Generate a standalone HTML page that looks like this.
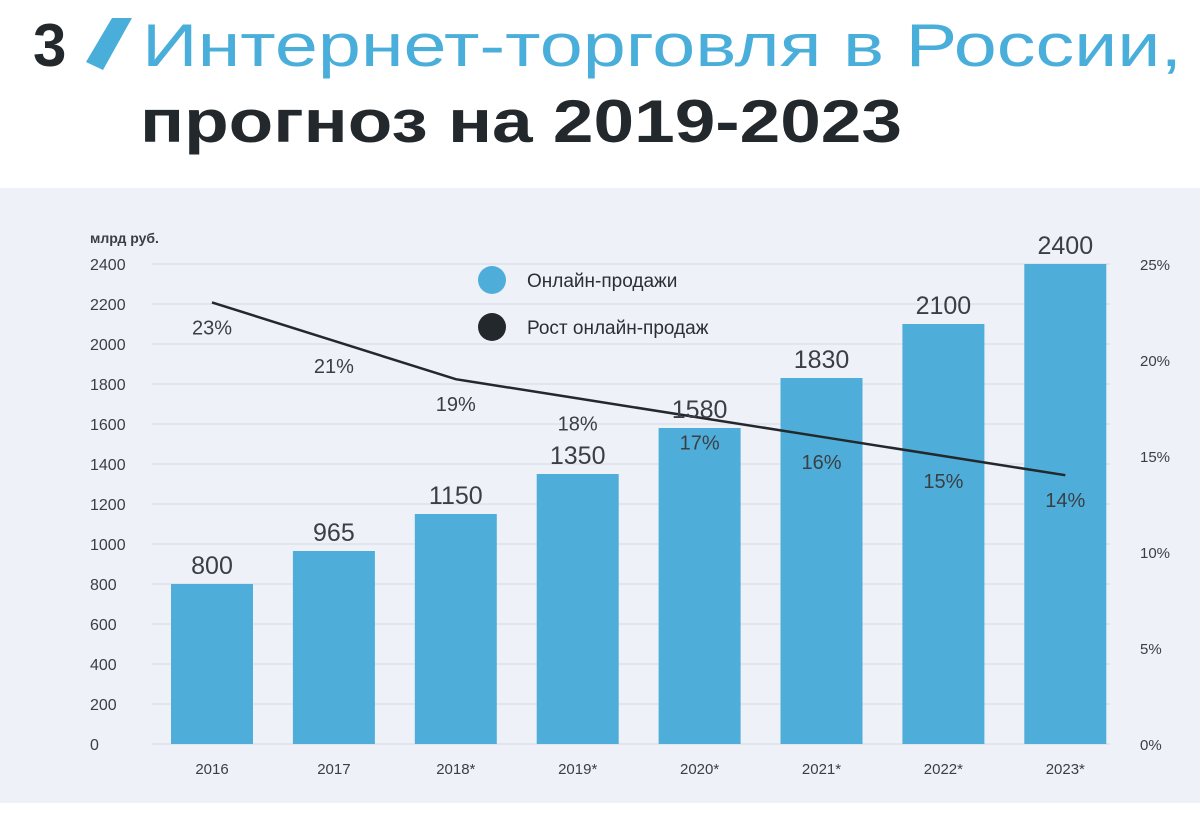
<!DOCTYPE html>
<html><head><meta charset="utf-8"><style>
html,body{margin:0;padding:0;background:#fff;}
svg{display:block;font-family:"Liberation Sans",sans-serif;}
</style></head><body>
<svg id="c" width="1200" height="828" viewBox="0 0 1200 828">
<text x="33" y="66" font-size="60" font-weight="bold" fill="#23282c">3</text>
<polygon points="112,18 132,18 103,70 86,62" fill="#4aaedb"/>
<text x="142" y="66" font-size="60" fill="#4aaedb" textLength="1040" lengthAdjust="spacingAndGlyphs">Интернет-торговля в России,</text>
<text x="140" y="142" font-size="60" font-weight="bold" fill="#23282c" textLength="762" lengthAdjust="spacingAndGlyphs">прогноз на 2019-2023</text>
<rect x="0" y="188" width="1200" height="615" fill="#eef1f8"/>
<text x="90" y="243" font-size="14" font-weight="bold" fill="#3a3f44">млрд руб.</text>
<g id="grid"></g><g id="bars"></g><g id="line"></g><g id="labels"></g>
<circle cx="492" cy="280" r="14" fill="#4faed9"/>
<text x="527" y="287" font-size="19" fill="#2b2f33">Онлайн-продажи</text>
<circle cx="492" cy="327" r="14" fill="#23282c"/>
<text x="527" y="334" font-size="19" fill="#2b2f33">Рост онлайн-продаж</text>
</svg>
<script>
const categories=["2016","2017","2018*","2019*","2020*","2021*","2022*","2023*"];
const sales=[800,965,1150,1350,1580,1830,2100,2400];
const growth=[23,21,19,18,17,16,15,14];
const leftTicks=[0,200,400,600,800,1000,1200,1400,1600,1800,2000,2200,2400];
const rightTicks=[0,5,10,15,20,25];
const NS="http://www.w3.org/2000/svg";
const y0=744,y1=264;
const yL=v=>y0-(v/2400)*(y0-y1);
const yR=v=>y0-(v/25)*(y0-y1);
const xC=i=>212+i*121.9;
function mk(tag,attrs,parent,txt){const e=document.createElementNS(NS,tag);for(const k in attrs)e.setAttribute(k,attrs[k]);if(txt!==undefined)e.textContent=txt;document.getElementById(parent).appendChild(e);return e;}
leftTicks.forEach(t=>{
 const l=mk("line",{x1:152,x2:1110,y1:yL(t),y2:yL(t),stroke:"#dde1ea","stroke-width":1.5},"grid");
 
 
 const tx=mk("text",{x:90,y:yL(t)+6,"font-size":16,fill:"#3a3f44"},"grid",t);
 
 
});
rightTicks.forEach(t=>{
 const tx=mk("text",{x:1140,y:yR(t)+6,"font-size":15,fill:"#3a3f44"},"grid",t+"%");
 
 
});
categories.forEach((c,i)=>{
 const b=mk("rect",{x:xC(i)-41,y:yL(sales[i]),width:82,height:y0-yL(sales[i]),fill:"#4faed9"},"bars");
 
 
 const v=mk("text",{x:xC(i),y:yL(sales[i])-10,"font-size":25,fill:"#3a3f44","text-anchor":"middle"},"labels",sales[i]);
 
 
 const g=mk("text",{x:xC(i),y:yR(growth[i])+32,"font-size":20,fill:"#3a3f44","text-anchor":"middle"},"labels",growth[i]+"%");
 
 
 const x=mk("text",{x:xC(i),y:774,"font-size":15,fill:"#3a3f44","text-anchor":"middle"},"labels",c);
 
 
});
const p=mk("polyline",{points:growth.map((g,i)=>xC(i)+","+yR(g)).join(" "),fill:"none",stroke:"#23282c","stroke-width":2.5},"line");


</script>
</body></html>
